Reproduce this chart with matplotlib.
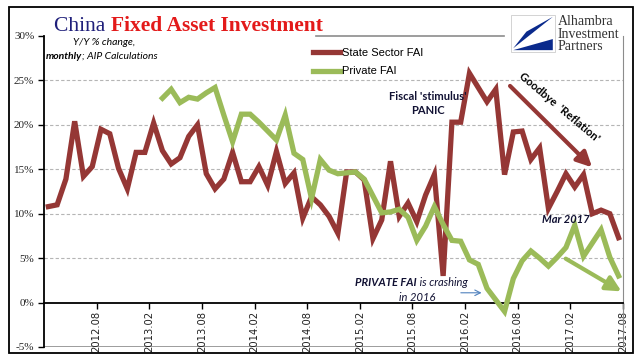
import numpy as np
import matplotlib.pyplot as plt
from matplotlib.patches import Rectangle, Polygon

# monthly Y/Y % change, one value per month
state_fai = [10.8, 11.0, 13.9, 20.4, 14.2, 15.3, 19.5, 19.0, 15.1, 12.8,
             16.9, 16.9, 20.2, 17.1, 15.6, 16.3, 18.7, 20.0, 14.5, 12.8,
             13.9, 16.9, 13.6, 13.6, 15.3, 13.2, 17.0, 13.4, 14.6, 9.5,
             11.9, 11.0, 9.7, 7.8, 14.7, 14.7, 13.8, 7.2, 9.3, 15.9,
             9.7, 11.2, 9.1, 12.1, 14.4, 3.0, 20.3, 20.3, 25.8, 24.2,
             22.6, 24.0, 14.4, 19.2, 19.3, 16.1, 17.4, 10.6, 12.5, 14.5,
             13.0, 14.4, 10.0, 10.4, 10.0, 7.3]
private_start = 13
private_fai = [23.0, 24.0, 22.5, 23.1, 22.9, 23.6, 24.2, 21.1, 18.1, 21.2,
               21.2, 20.3, 19.3, 18.3, 21.1, 16.8, 16.1, 11.7, 16.1, 14.9,
               14.5, 14.6, 14.7, 13.9, 12.0, 10.1, 10.2, 10.5, 9.6, 7.0,
               8.6, 10.8, 8.8, 7.0, 6.9, 4.8, 4.3, 1.6, 0.3, -1.0,
               2.7, 4.7, 5.8, 5.0, 4.1, 5.1, 6.2, 8.7, 5.2, 6.7,
               8.2, 5.1, 3.0]
tick_labels = ['2012.08', '2013.02', '2013.08', '2014.02', '2014.08', '2015.02',
               '2015.08', '2016.02', '2016.08', '2017.02', '2017.08']
y_ticks = [-5, 0, 5, 10, 15, 20, 25, 30]

RED = '#953735'
GREEN = '#9BBB59'
SERIF = 'Liberation Serif'
SANS = 'Lato'

fig = plt.figure(figsize=(6.41, 3.61), dpi=100)
ax = fig.add_axes([0.0686, 0.0388, 0.9033, 0.8615])

x_state = np.arange(len(state_fai))
x_priv = np.arange(private_start, private_start + len(private_fai))
ax.plot(x_state, state_fai, color=RED, lw=3.8, solid_joinstyle='miter', label='State Sector FAI', zorder=3)
ax.plot(x_priv, private_fai, color=GREEN, lw=3.8, solid_joinstyle='miter', label='Private FAI', zorder=3)

ax.set_xlim(-0.5, len(state_fai) - 0.5)
ax.set_ylim(-5, 30)

# y axis
ax.set_yticks(y_ticks)
ax.set_yticklabels([f'{v}%' for v in y_ticks])
ax.tick_params(axis='y', direction='out', length=4, width=1, pad=3, labelsize=8, labelcolor='#222222')
for v in y_ticks[2:-1]:
    ax.axhline(v, color='#b5b5b5', lw=0.8, ls=(0, (3, 2)), zorder=1)

# x axis crosses at 0%
ax.set_xticks(np.arange(5.5, len(state_fai), 6))
ax.set_xticklabels(tick_labels)
ax.tick_params(axis='x', direction='out', length=4, width=1, pad=2, labelsize=7.2,
               labelcolor='#222222', labelrotation=90)
for lab in ax.get_xticklabels() + ax.get_yticklabels():
    lab.set_family(SERIF)
ax.spines['bottom'].set_position(('data', 0))
ax.spines['bottom'].set_linewidth(1.3)
ax.spines['left'].set_linewidth(1.3)
ax.spines['right'].set_color('#8c8c8c')
ax.spines['top'].set_visible(False)
ax.axhline(-5, color='#8c8c8c', lw=1.2, zorder=1)
ax.plot([0.47, 0.795], [1, 1], transform=ax.transAxes, color='#8c8c8c', lw=1.2, clip_on=False)

# legend
ax.legend(loc='upper left', bbox_to_anchor=(0.479, 0.882), bbox_transform=fig.transFigure,
          frameon=False, prop={'family': 'Liberation Sans', 'size': 8},
          handlelength=2.5, handletextpad=0.15, labelspacing=0.75, borderpad=0)

# annotations
ax.text(6.3, 29.3, 'Y/Y % change,', fontsize=7.5, style='italic', family=SANS, ha='center', va='center')
t1 = ax.text(-0.3, 27.7, 'monthly', fontsize=7.5, style='italic', weight='bold', family=SANS, va='center')
ax.annotate('; AIP Calculations', xy=(1, 0.5), xycoords=t1, va='center', fontsize=7.5,
            style='italic', family=SANS)

ax.text(43.3, 22.4, "Fiscal 'stimulus'\nPANIC", fontsize=8, weight='bold', family=SANS,
        ha='center', va='center', color='#111133', linespacing=1.4)
ax.text(58.2, 22.0, "Goodbye  'Reflation'", fontsize=8, weight='bold', family=SANS,
        ha='center', va='center', rotation=-40, rotation_mode='anchor')
ax.annotate('', xy=(62.2, 15.0), xytext=(52.4, 24.6),
            arrowprops=dict(arrowstyle='-|>,head_length=0.9,head_width=0.45', color=RED, lw=3))
ax.text(59.0, 9.4, 'Mar 2017', fontsize=8, weight='bold', style='italic', family=SANS,
        ha='center', va='center', color='#111133')
ax.annotate('', xy=(65.6, 1.1), xytext=(58.7, 5.1),
            arrowprops=dict(arrowstyle='-|>,head_length=0.9,head_width=0.45', color=GREEN, lw=3),
            annotation_clip=False)
t2 = ax.text(35.0, 2.3, 'PRIVATE FAI', fontsize=8, weight='bold', style='italic', family=SANS,
             va='center', color='#111133')
ax.annotate(' is crashing', xy=(1, 0.5), xycoords=t2, va='center', fontsize=8, style='italic',
            family=SANS, color='#111133')
ax.text(42.0, 0.6, 'in 2016', fontsize=8, style='italic', family=SANS, ha='center', va='center',
        color='#111133')
ax.annotate('', xy=(49.7, 1.1), xytext=(46.7, 1.1),
            arrowprops=dict(arrowstyle='->', color='#4F81BD', lw=0.8))

# title
tt = fig.text(54 / 641, 1 - 31 / 361, 'China ', fontsize=15.5, family=SERIF, color='#1F1F7A')
ax.annotate('Fixed Asset Investment', xy=(1, 0), xycoords=tt, va='bottom', fontsize=15.5,
            family=SERIF, weight='bold', color='#E31A1A')

# logo
lx, ly, lw_, lh = 511 / 641, 1 - 52 / 361, 44 / 641, 37 / 361
fig.patches.append(Rectangle((lx, ly), lw_, lh, transform=fig.transFigure,
                             facecolor='white', edgecolor='#cccccc', lw=0.6))
fig.patches.append(Polygon([(lx + lw_ * 0.95, ly + lh * 0.95), (lx + lw_ * 0.05, ly + lh * 0.1),
                            (lx + lw_ * 0.35, ly + lh * 0.55)], closed=True,
                           transform=fig.transFigure, facecolor='#0A2A8C', edgecolor='none'))
fig.patches.append(Polygon([(lx + lw_ * 0.05, ly + lh * 0.05), (lx + lw_ * 0.95, ly + lh * 0.05),
                            (lx + lw_ * 0.95, ly + lh * 0.35), (lx + lw_ * 0.5, ly + lh * 0.2)],
                           closed=True, transform=fig.transFigure, facecolor='#0A2A8C',
                           edgecolor='none'))
fig.text(558 / 641, 1 - 34 / 361, 'Alhambra\nInvestment\nPartners', fontsize=10, family=SERIF,
         color='#333333', va='center', linespacing=0.95)

# outer frame
fig.patches.append(Rectangle((9 / 641, 8 / 361), 624 / 641, 346 / 361, transform=fig.transFigure,
                             fill=False, edgecolor='black', lw=1.3))

fig.savefig('out.png', dpi=100)
